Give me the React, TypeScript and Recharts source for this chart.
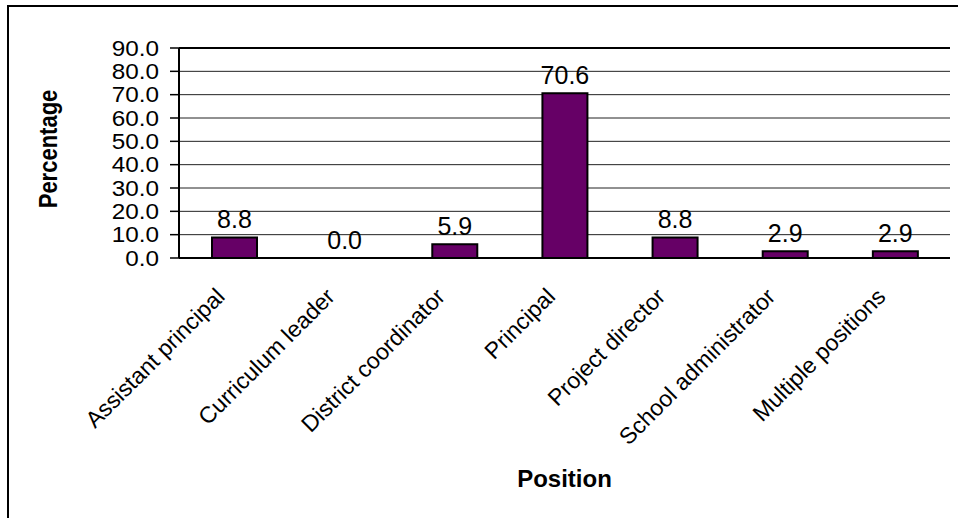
import React from "react";
import { BarChart, Bar, XAxis, YAxis, CartesianGrid, LabelList, ReferenceLine, Label } from "recharts";

const categories = [
  "Assistant principal",
  "Curriculum leader",
  "District coordinator",
  "Principal",
  "Project director",
  "School administrator",
  "Multiple positions",
];
const percentages = [8.8, 0.0, 5.9, 70.6, 8.8, 2.9, 2.9];
const yTicks = [0, 10, 20, 30, 40, 50, 60, 70, 80, 90];

const data = categories.map((name, i) => ({ name, value: percentages[i] }));
// boundaries between categories, for the little tick marks under the axis
const edgeTicks = [...categories.map((_, i) => i), categories.length];

const FONT = '"Liberation Sans", Arial, sans-serif';
const STRETCH = 1.13;

const CategoryTick = (props: any) => {
  const { x, y, payload } = props;
  return (
    <g transform={`translate(${x - 8},${y}) rotate(-45)`}>
      <text x={0} y={0} textAnchor="end" fontSize={23} fontFamily={FONT} fill="#000">
        {payload.value}
      </text>
    </g>
  );
};

const ValueTick = (props: any) => {
  const { x, y, payload } = props;
  return (
    <g transform={`translate(${x},${y}) scale(${STRETCH},1)`}>
      <text x={0} y={0} dy={7.5} textAnchor="end" fontSize={21.5} fontFamily={FONT} fill="#000">
        {Number(payload.value).toFixed(1)}
      </text>
    </g>
  );
};

const BarValue = (props: any) => {
  const { x, y, width, value } = props;
  return (
    <text x={x + width / 2} y={y - 9} textAnchor="middle" fontSize={25} fontFamily={FONT} fill="#000">
      {Number(value).toFixed(1)}
    </text>
  );
};

const YTitle = (props: any) => {
  const vb = props.viewBox;
  return (
    <g transform={`translate(${vb.x + 57},${vb.y + vb.height / 2 - 4}) scale(${STRETCH},1) rotate(-90)`}>
      <text x={0} y={0} textAnchor="middle" fontSize={22} fontWeight="bold" fontFamily={FONT} fill="#000">
        Percentage
      </text>
    </g>
  );
};

const XTitle = (props: any) => {
  const vb = props.viewBox;
  return (
    <text x={vb.x + vb.width / 2} y={vb.y + 229} textAnchor="middle" fontSize={24} fontWeight="bold" fontFamily={FONT} fill="#000">
      Position
    </text>
  );
};

const App = () => {
  return (
    <div style={{ position: "absolute", left: 0, top: 0, width: 958, height: 518, overflow: "hidden", background: "#fff" }}>
      <div
        style={{
          position: "absolute",
          left: 7,
          top: 5,
          width: 970,
          height: 530,
          borderLeft: "2px solid #000",
          borderTop: "2px solid #000",
        }}
      />
      <div style={{ position: "absolute", left: 0, top: 0 }}>
        <BarChart width={958} height={518} data={data} margin={{ top: 48, right: 8, left: 0, bottom: 10 }}>
          <CartesianGrid vertical={false} stroke="#222" strokeWidth={1} />
          <XAxis
            xAxisId="edges"
            type="number"
            domain={[0, categories.length]}
            ticks={edgeTicks}
            tick={false}
            tickLine={{ stroke: "#000", strokeWidth: 1.5 }}
            tickSize={7}
            axisLine={false}
            height={0}
          />
          <XAxis
            xAxisId="cat"
            dataKey="name"
            interval={0}
            tickLine={false}
            tickSize={0}
            tickMargin={40}
            tick={<CategoryTick />}
            axisLine={{ stroke: "#000", strokeWidth: 2 }}
            height={250}
          >
            <Label content={<XTitle />} />
          </XAxis>
          <YAxis
            domain={[0, 90]}
            ticks={yTicks}
            interval={0}
            width={179}
            tickSize={9}
            tickMargin={11}
            tick={<ValueTick />}
            tickLine={{ stroke: "#000", strokeWidth: 1.5 }}
            axisLine={{ stroke: "#000", strokeWidth: 2 }}
          >
            <Label content={<YTitle />} />
          </YAxis>
          <ReferenceLine y={90} xAxisId="cat" stroke="#000" strokeWidth={2} />
          <ReferenceLine x={categories.length} xAxisId="edges" stroke="#000" strokeWidth={2.5} />
          <Bar
            dataKey="value"
            xAxisId="cat"
            barSize={45}
            minPointSize={0.01}
            fill="#660066"
            stroke="#000"
            strokeWidth={2}
            isAnimationActive={false}
          >
            <LabelList dataKey="value" content={<BarValue />} />
          </Bar>
        </BarChart>
      </div>
    </div>
  );
};

export default App;
